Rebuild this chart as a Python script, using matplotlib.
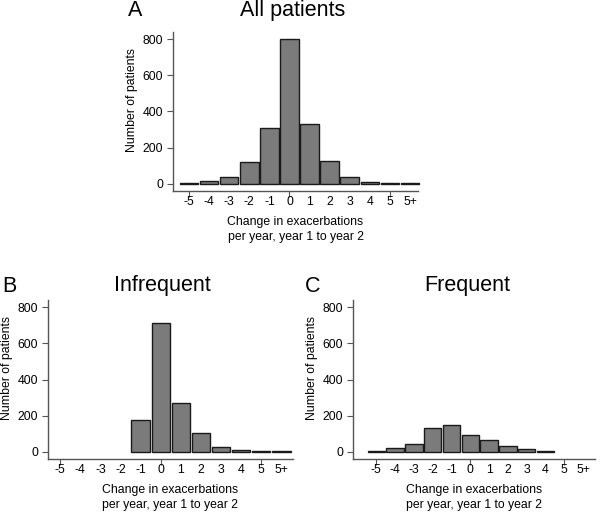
import matplotlib
matplotlib.use("Agg")
import matplotlib.pyplot as plt
import numpy as np

plt.rcParams['font.family'] = ['Liberation Sans', 'DejaVu Sans']

categories = ["-5", "-4", "-3", "-2", "-1", "0", "1", "2", "3", "4", "5", "5+"]
all_patients = [3, 15, 35, 122, 310, 800, 330, 127, 36, 10, 3, 3]
infrequent = [0, 0, 0, 0, 174, 712, 271, 104, 26, 11, 3, 3]
frequent = [4, 22, 44, 130, 146, 94, 65, 31, 17, 6, 0, 0]
yticks = [0, 200, 400, 600, 800]
major_ticks = [-5, 0, 5]

W, H = 600, 513
fig = plt.figure(figsize=(W / 100, H / 100), dpi=100)

def px_axes(l, r, t, b):
    return fig.add_axes([l / W, 1 - b / H, (r - l) / W, (b - t) / H])

panels = [
    dict(box=(173, 418, 32, 191), data=all_patients, xlim=(-5.8, 6.4),
         letter="A", lx=135, title="All patients", tx=293, ty=11, ylx=132),
    dict(box=(48, 293, 300, 459), data=infrequent, xlim=(-5.61, 6.58),
         letter="B", lx=9, title="Infrequent", tx=162, ty=286, ylx=7),
    dict(box=(353, 595, 300, 459), data=frequent, xlim=(-6.24, 6.63),
         letter="C", lx=313, title="Frequent", tx=467, ty=286, ylx=312),
]

positions = np.arange(-5, -5 + len(categories))
spine_col = "#555555"
fs = 8.8

for p in panels:
    l, r, t, b = p["box"]
    ax = px_axes(l, r, t, b)
    vals = np.array(p["data"])
    mask = vals > 0
    ax.bar(positions[mask], vals[mask], width=0.92, color="#7b7b7b",
           edgecolor="#1a1a1a", linewidth=1.0, clip_on=False, zorder=3)
    ax.set_xlim(*p["xlim"])
    ax.set_ylim(-40, 840)
    for s in ["top", "right"]:
        ax.spines[s].set_visible(False)
    for s in ["left", "bottom"]:
        ax.spines[s].set_color(spine_col)
        ax.spines[s].set_linewidth(1.0)
    ax.set_yticks(yticks)
    ax.set_yticklabels([str(v) for v in yticks], fontsize=fs)
    ax.set_xticks(major_ticks)
    ax.set_xticklabels([])
    ax.tick_params(axis="both", length=4, width=0.8, color=spine_col, pad=3)
    for pos, lab in zip(positions, categories):
        ax.text(pos, 1 - (b + 11) / H, lab,
                transform=matplotlib.transforms.blended_transform_factory(ax.transData, fig.transFigure),
                ha="center", va="center", fontsize=fs)
    fig.text((l + r) / 2 / W, 1 - (b + 31) / H, "Change in exacerbations",
             ha="center", va="center", fontsize=fs)
    fig.text((l + r) / 2 / W, 1 - (b + 46) / H, "per year, year 1 to year 2",
             ha="center", va="center", fontsize=fs)
    fig.text(p["ylx"] / W, 1 - ((t + b) / 2 - 12) / H, "Number of patients",
             rotation=90, ha="center", va="center", fontsize=fs)
    fig.text(p["lx"] / W, 1 - p["ty"] / H, p["letter"], ha="center",
             va="center", fontsize=15.5)
    fig.text(p["tx"] / W, 1 - p["ty"] / H, p["title"], ha="center",
             va="center", fontsize=15.5)

fig.savefig("out.png", dpi=100)
